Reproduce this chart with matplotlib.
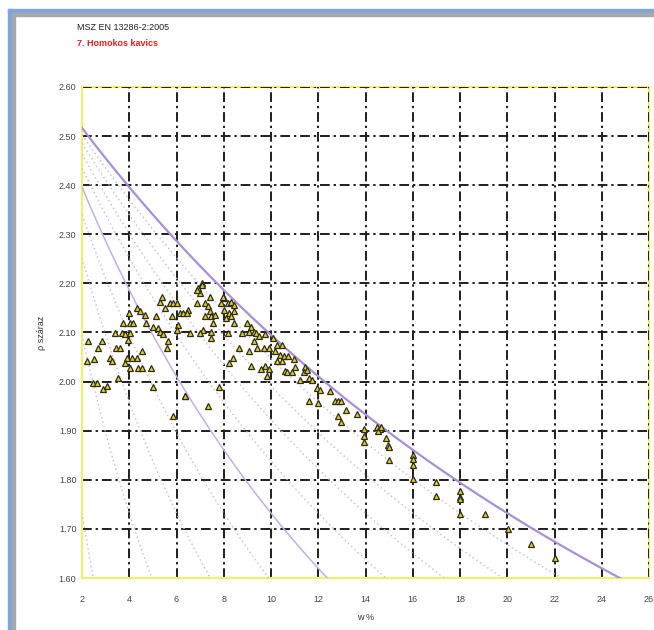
import numpy as np
import matplotlib
matplotlib.use("Agg")
import matplotlib.pyplot as plt
from matplotlib.patches import Rectangle

plt.rcParams['font.family'] = ['Liberation Sans', 'DejaVu Sans']

# Proctor mérési pontok: víztartalom w [%] és száraz térfogatsűrűség [g/cm3]
w_meres = [
    2.27, 2.83, 2.69, 2.23, 2.49, 3.18, 3.25, 3.46, 3.60, 3.39, 3.68, 3.82, 4.03, 3.96,
    3.75, 4.03, 4.17, 4.00, 4.31, 4.45, 4.66, 4.73, 3.89, 4.10, 4.31, 3.82, 4.03, 4.38,
    4.52, 4.52, 4.94, 3.54, 2.48, 2.62, 2.90, 3.04, 5.01, 5.01, 5.23, 5.30, 5.15, 5.44,
    5.65, 5.58, 5.30, 5.37, 5.51, 5.72, 5.86, 6.00, 5.79, 6.14, 6.28, 6.07, 6.00, 6.35,
    5.86, 7.06, 6.92, 6.99, 7.40, 6.85, 7.19, 6.50, 6.43, 7.33, 7.40, 7.19, 7.47, 7.61,
    7.54, 7.47, 7.12, 6.57, 6.99, 7.47, 7.89, 8.03, 8.17, 8.31, 8.44, 8.03, 8.24, 8.44,
    8.10, 8.31, 8.44, 9.00, 9.14, 8.17, 8.79, 9.07, 9.28, 9.35, 9.49, 9.76, 9.28, 8.65,
    9.07, 9.42, 9.69, 9.90, 10.10, 10.25, 10.46, 10.18, 10.39, 10.53, 10.74, 10.60, 10.25,
    10.46, 8.38, 8.24, 9.14, 9.56, 9.76, 9.90, 9.83, 7.82, 7.33, 6.36, 6.86, 7.07, 7.96,
    10.97, 11.03, 10.69, 10.90, 11.45, 11.38, 11.52, 11.24, 11.59, 11.72, 11.93, 12.07,
    12.48, 11.59, 12.00, 12.69, 12.83, 12.97, 13.17, 12.83, 12.97, 13.66, 13.93, 13.93,
    13.93, 14.48, 14.62, 14.55, 14.97, 14.66, 14.87, 15.01, 15.01, 16.00, 16.00, 16.00,
    16.00, 16.99, 16.99, 17.98, 17.98, 17.98, 17.98, 19.04, 20.03, 21.02, 22.01,
]
rho_meres = [
    2.082, 2.082, 2.069, 2.042, 2.046, 2.048, 2.042, 2.069, 2.069, 2.099, 2.099, 2.096,
    2.099, 2.085, 2.119, 2.119, 2.119, 2.139, 2.149, 2.143, 2.136, 2.119, 2.048, 2.048,
    2.048, 2.038, 2.028, 2.028, 2.028, 2.062, 2.028, 2.008, 1.998, 1.998, 1.985, 1.992,
    1.988, 2.112, 2.109, 2.102, 2.133, 2.096, 2.082, 2.069, 2.163, 2.173, 2.149, 2.160,
    2.160, 2.160, 2.133, 2.139, 2.139, 2.116, 2.106, 1.971, 1.930, 2.200, 2.190, 2.180,
    2.173, 2.160, 2.160, 2.146, 2.139, 2.153, 2.143, 2.133, 2.133, 2.136, 2.119, 2.102,
    2.106, 2.099, 2.099, 2.089, 2.160, 2.170, 2.160, 2.163, 2.156, 2.146, 2.139, 2.143,
    2.129, 2.133, 2.119, 2.119, 2.112, 2.099, 2.099, 2.102, 2.102, 2.099, 2.092, 2.096,
    2.082, 2.069, 2.062, 2.069, 2.069, 2.069, 2.089, 2.075, 2.075, 2.062, 2.055, 2.052,
    2.052, 2.022, 2.042, 2.042, 2.048, 2.038, 2.032, 2.025, 2.032, 2.025, 2.011, 1.988,
    1.951, 1.971, 2.187, 2.197, 2.172, 2.047, 2.030, 2.020, 2.020, 2.030, 2.020, 2.023,
    2.003, 2.007, 2.003, 1.987, 1.983, 1.980, 1.960, 1.957, 1.960, 1.960, 1.960, 1.943,
    1.930, 1.917, 1.933, 1.903, 1.890, 1.877, 1.907, 1.903, 1.900, 1.870, 1.907, 1.886,
    1.866, 1.840, 1.850, 1.843, 1.830, 1.802, 1.795, 1.768, 1.778, 1.765, 1.760, 1.731,
    1.731, 1.700, 1.670, 1.640,
]

# telítettségi vonalak (rho_s = 2.65 g/cm3)
rho_s = 2.65
telitettseg = [0.1, 0.2, 0.3, 0.4, 0.5, 0.6, 0.7, 0.8, 0.9, 1.0]
w_vonal = np.linspace(2, 26, 200)

x_ticks = [2, 4, 6, 8, 10, 12, 14, 16, 18, 20, 22, 24, 26]
y_ticks = [1.60, 1.70, 1.80, 1.90, 2.00, 2.10, 2.20, 2.30, 2.40, 2.50, 2.60]

fig = plt.figure(figsize=(6.54, 6.30), dpi=100)
W, H = 654, 630

# ablakkeret (kék + szürke)
fig.patches.append(Rectangle((8 / W, 0), 4 / W, 1 - 9 / H, transform=fig.transFigure,
                             color='#7fa6dc', zorder=0))
fig.patches.append(Rectangle((12 / W, 0), 3 / W, 1 - 12 / H, transform=fig.transFigure,
                             color='#a8a8a8', zorder=0))
fig.patches.append(Rectangle((8 / W, 1 - 13 / H), 1, 4 / H, transform=fig.transFigure,
                             color='#7fa6dc', zorder=0))
fig.patches.append(Rectangle((12 / W, 1 - 16 / H), 1, 3 / H, transform=fig.transFigure,
                             color='#a8a8a8', zorder=0))

ax = fig.add_axes([82 / W, 1 - 578 / H, 567 / W, 491 / H])

for s in telitettseg:
    rho = rho_s / (1 + (w_vonal / 100) * rho_s / s)
    if s == 1.0:
        ax.plot(w_vonal, rho, color='#a98fd4', lw=1.6, zorder=3)
    elif s == 0.5:
        ax.plot(w_vonal, rho, color='#c2b0e2', lw=1.1, zorder=3)
    else:
        ax.plot(w_vonal, rho, color='#c7b6e6', lw=1.0, ls=(0, (1, 2.2)), zorder=3)

ax.plot(w_meres, rho_meres, ls='none', marker='^', ms=4.6, mfc='#e6d600',
        mec='#2a2a2a', mew=0.9, zorder=5)

ax.set_xlim(2, 26)
ax.set_ylim(1.60, 2.60)
ax.set_xticks(x_ticks)
ax.set_yticks(y_ticks)
ax.set_xticklabels([str(t) for t in x_ticks])
ax.set_yticklabels([f"{t:.2f}" for t in y_ticks])
ax.tick_params(length=0, labelsize=6.5, labelcolor='#444444')
ax.tick_params(axis='x', pad=12)
ax.tick_params(axis='y', pad=4)

ax.grid(True, color='#1e1e1e', lw=1.4, ls=(0, (5, 2, 1.2, 2)), zorder=1)
ax.set_axisbelow(True)
for name, sp in ax.spines.items():
    sp.set_color('#f2ee70')
    sp.set_linewidth(1.6)
    if name in ('top', 'right'):
        sp.set_zorder(0.2)

ax.set_xlabel('w %', fontsize=6.5, color='#333333')
ax.xaxis.set_label_coords(0.5, -0.072)
ax.set_ylabel('ρ száraz', fontsize=6.5, color='#333333')
ax.yaxis.set_label_coords(-0.063, 0.5)

fig.text(77 / W, 1 - 27 / H, 'MSZ EN 13286-2:2005', fontsize=6.5, color='#222222',
         va='center', ha='left')
fig.text(77 / W, 1 - 43 / H, '7. Homokos kavics', fontsize=6.5, color='#e02020',
         fontweight='bold', va='center', ha='left')

fig.savefig('out.png', dpi=100)
